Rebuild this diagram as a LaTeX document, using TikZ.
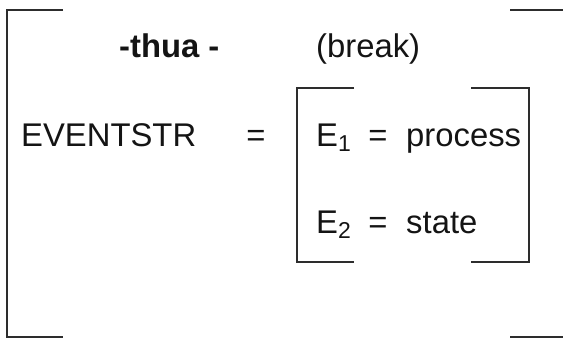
\documentclass[tikz,border=0pt]{standalone}
\usepackage{fontspec}
\setmainfont{Liberation Sans}
\usetikzlibrary{positioning}

\begin{document}
\begin{tikzpicture}[x=0.03cm, y=-0.03cm, every node/.style={font=\fontsize{28}{33}\selectfont, inner sep=0pt, text=inkblack}]
			% Define colors
			\definecolor{inkblack}{RGB}{20, 20, 20}
			\definecolor{brackgrey}{RGB}{45, 45, 45}

			% Styles
			\tikzstyle{brack} = [draw=brackgrey, line width=1.3pt, line join=miter]
			\tikzstyle{attr} = [anchor=base west]
			\tikzstyle{eqsign} = [anchor=base]

			% Row baselines
			\def\rowtop{58}
			\def\rowone{146}
			\def\rowtwo{233}

			\useasboundingbox (0,0) rectangle (563,338);

			% Outer matrix brackets
			\draw[brack] (63,10) -- (7,10) -- (7,337) -- (63,337);
			\draw[brack] (510,10) -- (563,10);
			\draw[brack] (510,337) -- (563,337);

			% Inner matrix brackets
			\draw[brack] (354,88) -- (297,88) -- (297,262) -- (354,262);
			\draw[brack] (471,88) -- (529,88) -- (529,262) -- (471,262);

			% Head line
			\node[attr, font=\fontsize{28}{33}\selectfont\bfseries] (thua) at (119, \rowtop) {-thua -};
			\node[attr] (gloss) at (316, \rowtop) {(break)};

			% Event structure
			\node[attr] (evstr) at (21, \rowone) {EVENTSTR};
			\node[eqsign] (eqmain) at (256, \rowone) {=};
			\node[attr] (eone) at (316, \rowone) {E\textsubscript{1}};
			\node[eqsign] (eqone) at (378, \rowone) {=};
			\node[attr] (proc) at (406, \rowone) {process};
			\node[attr] (etwo) at (316, \rowtwo) {E\textsubscript{2}};
			\node[eqsign] (eqtwo) at (378, \rowtwo) {=};
			\node[attr] (stat) at (406, \rowtwo) {state};

		\end{tikzpicture}
\end{document}
